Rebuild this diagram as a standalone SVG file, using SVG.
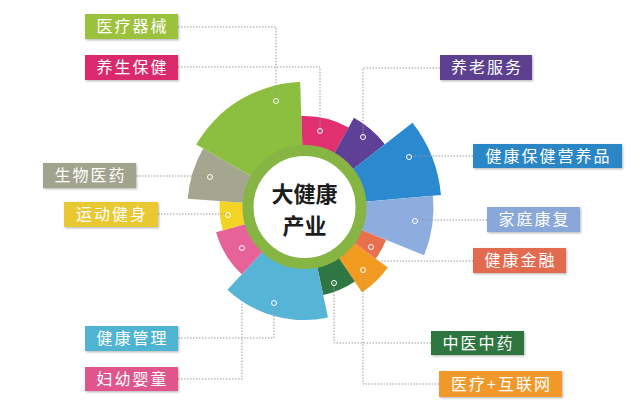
<svg xmlns="http://www.w3.org/2000/svg" width="640" height="406" viewBox="0 0 640 406">
<defs>
<filter id="sh" x="-10%" y="-20%" width="125%" height="150%">
<feDropShadow dx="1" dy="1.2" stdDeviation="0.8" flood-color="#000" flood-opacity="0.28"/>
</filter>
<style>
.lbl{font-family:"Noto Sans CJK SC","Noto Sans",sans-serif;font-size:16px;fill:#fff;text-anchor:middle;letter-spacing:2px}
.ctr{font-family:"Noto Sans CJK SC","Noto Sans",sans-serif;font-size:22px;font-weight:700;fill:#1c1c1c;text-anchor:middle}
.con{fill:none;stroke:#9b9b9b;stroke-width:1;stroke-dasharray:1.5 1.5}
.dot{fill:none;stroke:#fff;stroke-width:1}
.box{filter:url(#sh)}
</style>
</defs>
<rect width="640" height="406" fill="#ffffff"/>
<g id="wheel" transform="translate(1.5,1)">
<path id="seg-yiliaoqixie" fill="#8CBF3F" d="M194.75,143.5 A125,125 0 0 1 298.64,81.07 L301.08,151.03 A55,55 0 0 0 255.37,178.5 Z"/>
<path id="seg-yangsheng" fill="#E0306F" d="M299.82,115.05 A91,91 0 0 1 347.12,126.41 L329.66,157.90 A55,55 0 0 0 301.08,151.03 Z"/>
<path id="seg-yanglao" fill="#5E4096" d="M352.45,116.79 A102,102 0 0 1 383.38,143.20 L346.34,172.14 A55,55 0 0 0 329.66,157.90 Z"/>
<path id="seg-yingyang" fill="#2A89CF" d="M410.96,121.65 A137,137 0 0 1 439.48,194.05 L357.79,201.20 A55,55 0 0 0 346.34,172.14 Z"/>
<path id="seg-kangfu" fill="#8EADDF" d="M431.51,194.75 A129,129 0 0 1 422.61,254.32 L354.00,226.60 A55,55 0 0 0 357.79,201.20 Z"/>
<path id="seg-jinrong" fill="#E8704F" d="M384.59,238.96 A88,88 0 0 1 374.19,257.73 L347.50,238.33 A55,55 0 0 0 354.00,226.60 Z"/>
<path id="seg-hulianwang" fill="#F39A20" d="M386.33,266.54 A103,103 0 0 1 360.60,291.39 L333.76,251.60 A55,55 0 0 0 347.50,238.33 Z"/>
<path id="seg-zhongyi" fill="#2E7743" d="M353.33,280.61 A90,90 0 0 1 321.71,294.03 L314.43,259.80 A55,55 0 0 0 333.76,251.60 Z"/>
<path id="seg-guanli" fill="#56B5D7" d="M326.49,316.53 A113,113 0 0 1 225.93,288.65 L265.49,246.23 A55,55 0 0 0 314.43,259.80 Z"/>
<path id="seg-fuyou" fill="#E8629A" d="M240.26,273.29 A92,92 0 0 1 214.56,231.36 L250.13,221.16 A55,55 0 0 0 265.49,246.23 Z"/>
<path id="seg-yundong" fill="#F3D324" d="M221.29,229.43 A85,85 0 0 1 218.20,200.07 L248.13,202.16 A55,55 0 0 0 250.13,221.16 Z"/>
<path id="seg-shengwu" fill="#A4A690" d="M186.28,197.84 A117,117 0 0 1 201.68,147.5 L255.37,178.5 A55,55 0 0 0 248.13,202.16 Z"/>
</g>
<g id="center">
<circle cx="304.5" cy="207" r="56.5" fill="#ffffff" stroke="#86B543" stroke-width="11"/>
<text class="ctr" x="304.5" y="202">大健康</text>
<text class="ctr" x="304.5" y="234.2">产业</text>
</g>
<g id="connectors">
<path class="con" d="M178,27 H276 V101"/>
<path class="con" d="M178,67 H320 V131"/>
<path class="con" d="M136,176 H210"/>
<path class="con" d="M158,214 H228"/>
<path class="con" d="M178,338 H274 V303"/>
<path class="con" d="M178,379 H242 V302"/>
<path class="con" d="M440,68 H363 V137"/>
<path class="con" d="M473,156 H409"/>
<path class="con" d="M487,220 H415"/>
<path class="con" d="M473,261 H380"/>
<path class="con" d="M431,343 H334 V283"/>
<path class="con" d="M439,384 H363 V270"/>
</g>
<g id="dots">
<circle class="dot" cx="276" cy="101" r="2.5"/>
<circle class="dot" cx="320" cy="131" r="2.5"/>
<circle class="dot" cx="363" cy="137" r="2.5"/>
<circle class="dot" cx="409" cy="157" r="2.5"/>
<circle class="dot" cx="415" cy="221" r="2.5"/>
<circle class="dot" cx="371" cy="247" r="2.5"/>
<circle class="dot" cx="363" cy="270" r="2.5"/>
<circle class="dot" cx="334" cy="283" r="2.5"/>
<circle class="dot" cx="274" cy="303" r="2.5"/>
<circle class="dot" cx="242" cy="248" r="2.5"/>
<circle class="dot" cx="228" cy="215" r="2.5"/>
<circle class="dot" cx="210" cy="177" r="2.5"/>
</g>
<g id="n-yiliaoqixie"><rect class="box" x="85" y="14" width="93" height="25" fill="#9CC23C"/><text class="lbl" x="132.5" y="32">医疗器械</text></g>
<g id="n-yangsheng"><rect class="box" x="85" y="55" width="93" height="25" fill="#D92A6E"/><text class="lbl" x="132.5" y="73">养生保健</text></g>
<g id="n-shengwu"><rect class="box" x="43" y="163" width="93" height="25" fill="#A1A38D"/><text class="lbl" x="90.5" y="181">生物医药</text></g>
<g id="n-yundong"><rect class="box" x="64" y="202" width="94" height="25" fill="#E9C830"/><text class="lbl" x="112" y="220">运动健身</text></g>
<g id="n-guanli"><rect class="box" x="85" y="326" width="93" height="25" fill="#4FB4D2"/><text class="lbl" x="132.5" y="344">健康管理</text></g>
<g id="n-fuyou"><rect class="box" x="85" y="367" width="93" height="24" fill="#E0578C"/><text class="lbl" x="132.5" y="385">妇幼婴童</text></g>
<g id="n-yanglao"><rect class="box" x="440" y="55" width="92" height="25" fill="#5B3F8F"/><text class="lbl" x="487" y="73">养老服务</text></g>
<g id="n-yingyang"><rect class="box" x="473" y="144" width="149" height="24" fill="#2C86C4"/><text class="lbl" x="548.5" y="162">健康保健营养品</text></g>
<g id="n-kangfu"><rect class="box" x="487" y="207" width="93" height="25" fill="#8AA7DA"/><text class="lbl" x="534.5" y="225">家庭康复</text></g>
<g id="n-jinrong"><rect class="box" x="473" y="248" width="93" height="25" fill="#E26A4F"/><text class="lbl" x="520.5" y="266">健康金融</text></g>
<g id="n-zhongyi"><rect class="box" x="431" y="331" width="93" height="24" fill="#2F7440"/><text class="lbl" x="478.5" y="349">中医中药</text></g>
<g id="n-hulianwang"><rect class="box" x="439" y="371" width="123" height="26" fill="#F0992A"/><text class="lbl" x="501.5" y="390">医疗+互联网</text></g>
</svg>
